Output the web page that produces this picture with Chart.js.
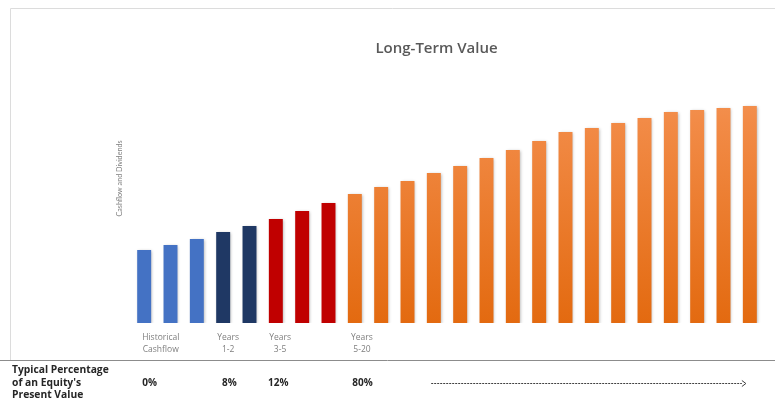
<!DOCTYPE html>
<html>
<head>
<meta charset="utf-8">
<script src="https://cdn.jsdelivr.net/npm/chart.js@4"></script>
<style>
    body { margin: 0; background: #fff; }
    #wrap { width: 775px; height: 401px; position: relative; }
</style>
</head>
<body>
<div id="wrap"><canvas id="ltv-chart"></canvas></div>
<script>
// Bars: 3 historical years, then the projected years
const categories = ['Hist 1', 'Hist 2', 'Hist 3'];
for (let i = 1; i <= 21; i++) categories.push('Year ' + i);

// Cashflow and dividends (arbitrary units)
const values = [73, 78, 84, 91, 97, 104, 112, 120, 129, 136, 142, 150,
                157, 165, 173, 182, 191, 195, 200, 205, 211, 213, 215, 217];

// How many bars belong to each period
const groupSizes = [3, 2, 3, 16];
const groupLabels = [['Historical', 'Cashflow'], ['Years', '1-2'], ['Years', '3-5'], ['Years', '5-20']];
const pctLabels = ['0%', '8%', '12%', '80%'];
const rowLabel = ['Typical Percentage', "of an Equity's", 'Present Value'];

// where the period / percentage labels sit, in bar index units
const groupLabelAt = [0.63, 3.19, 5.16, 8.27];
const pctLabelAt = [0.21, 3.24, 5.09, 8.29];
const arrowFrom = 10.9, arrowTo = 22.85;

const groupColors = ['#4472C4', '#1F3864', '#C00000', null];

let groupOf = [];
groupSizes.forEach((n, g) => { for (let i = 0; i < n; i++) groupOf.push(g); });

function barColor(c) {
    const g = groupOf[c.dataIndex];
    if (groupColors[g]) return groupColors[g];
    const area = c.chart.chartArea;
    if (!area) return '#EC7A2E';
    const grad = c.chart.ctx.createLinearGradient(0, area.top, 0, area.bottom);
    grad.addColorStop(0, '#F5A068');
    grad.addColorStop(0.3, '#F28B47');
    grad.addColorStop(1, '#E36A10');
    return grad;
}

// frame, bottom row text, dotted arrow
const tablePlugin = {
    id: 'tableRow',
    beforeDraw(chart) {
        const ctx = chart.ctx;
        ctx.save();
        ctx.strokeStyle = '#dcdcdc';
        ctx.lineWidth = 1;
        ctx.beginPath();
        ctx.moveTo(10.5, 360);
        ctx.lineTo(10.5, 8.5);
        ctx.lineTo(775, 8.5);
        ctx.stroke();
        ctx.restore();
    },
    beforeDatasetsDraw(chart) {
        const ctx = chart.ctx;
        ctx.save();
        ctx.shadowColor = 'rgba(0,0,0,0.3)';
        ctx.shadowBlur = 3;
        ctx.shadowOffsetX = 1;
        ctx.shadowOffsetY = 1;
    },
    afterDatasetsDraw(chart) {
        chart.ctx.restore();
    },
    afterDraw(chart) {
        const ctx = chart.ctx;
        const x3 = chart.scales.x3;
        ctx.save();
        ctx.strokeStyle = '#8c8c8c';
        ctx.lineWidth = 1;
        ctx.beginPath();
        ctx.moveTo(0, 360.5);
        ctx.lineTo(775, 360.5);
        ctx.stroke();

        ctx.fillStyle = '#262626';
        ctx.font = 'bold 10.3px "Open Sans"';
        ctx.textBaseline = 'middle';
        rowLabel.forEach((t, i) => ctx.fillText(t, 12, 370.5 + i * 12.5));

        const y = 383;
        const a = x3.getPixelForValue(arrowFrom);
        const b = x3.getPixelForValue(arrowTo);
        ctx.strokeStyle = '#404040';
        ctx.setLineDash([2, 1]);
        ctx.beginPath();
        ctx.moveTo(a, y + 0.5);
        ctx.lineTo(b - 4, y + 0.5);
        ctx.stroke();
        ctx.setLineDash([]);
        ctx.beginPath();
        ctx.moveTo(b - 4, y - 2.5);
        ctx.lineTo(b, y + 0.5);
        ctx.lineTo(b - 4, y + 3.5);
        ctx.stroke();
        ctx.restore();
    }
};

function labelAxis(positions, labels, font, color, padding, weight, height) {
    return {
        type: 'linear',
        position: 'bottom',
        weight: weight,
        offset: false,   // bar charts turn offset on for every x axis
        bounds: 'data',
        min: -0.5,
        max: categories.length - 0.5,
        grid: { display: false, drawTicks: false },
        border: { display: false },
        afterBuildTicks: scale => {
            scale.ticks = positions.map(v => ({ value: v }));
        },
        afterFit: scale => {
            scale.height = height;
        },
        ticks: {
            autoSkip: false,
            maxRotation: 0,
            padding: padding,
            color: color,
            font: font,
            callback: (value, index) => labels[index]
        }
    };
}

new Chart(document.getElementById('ltv-chart'), {
    type: 'bar',
    data: {
        labels: categories,
        datasets: [{
            label: 'Cashflow and Dividends',
            data: values,
            backgroundColor: barColor,
            borderWidth: 0,
            categoryPercentage: 1,
            barPercentage: 0.53
        }]
    },
    options: {
        responsive: true,
        maintainAspectRatio: false,
        animation: false,
        layout: { padding: { left: 110, right: 12, top: 0, bottom: 12 } },
        plugins: {
            legend: { display: false },
            tooltip: { enabled: false },
            title: {
                display: true,
                text: 'Long-Term Value',
                color: '#595959',
                font: { family: 'Open Sans', size: 15, weight: '600' },
                padding: { top: 40, bottom: -24 }
            }
        },
        scales: {
            x: {
                display: false,
                grid: { display: false }
            },
            x2: labelAxis(groupLabelAt, groupLabels,
                { family: 'Open Sans', size: 8.5, lineHeight: 1.41 }, '#7f7f7f', 9, 1, 33),
            x3: labelAxis(pctLabelAt, pctLabels,
                { family: 'Open Sans', size: 10, weight: 'bold', lineHeight: 1.2 }, '#262626', 21, 2, 33),
            y: {
                min: 0,
                max: 289,
                grid: { display: false, drawTicks: false },
                border: { display: false },
                ticks: { display: false },
                afterFit: scale => {
                    scale.width = 21;
                },
                title: {
                    display: true,
                    text: 'Cashflow and Dividends',
                    color: '#7f7f7f',
                    font: { family: 'Lato', size: 7.2 },
                    padding: { top: 5.5, bottom: 4 }
                }
            }
        }
    },
    plugins: [tablePlugin]
});
</script>
</body>
</html>
